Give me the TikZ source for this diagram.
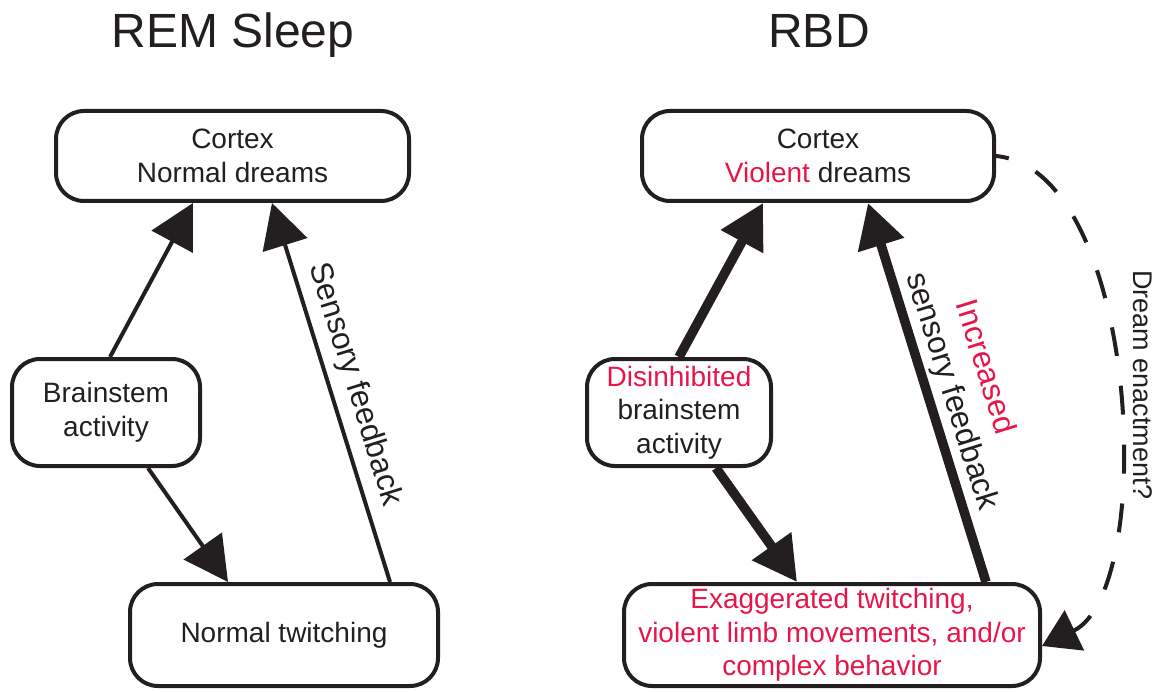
\documentclass[tikz,border=0pt]{standalone}
\usepackage{fontspec}
\setmainfont{Liberation Sans}
\usetikzlibrary{arrows.meta,calc}
\definecolor{rbdred}{RGB}{232,22,72}
\definecolor{ink}{RGB}{35,31,32}
\begin{document}
\begin{tikzpicture}[x=1pt,y=-1pt,
  box/.style={draw=ink, line width=4pt, rounded corners=28pt, align=center, inner sep=0pt, font=\fontsize{28}{33.5}\selectfont, text=ink},
  thinarrow/.style={draw=ink, line width=4pt, -{Triangle[length=44pt,width=46pt]}},
  thickarrow/.style={draw=ink, line width=9.5pt, -{Triangle[length=44pt,width=46pt]}},
  titletext/.style={font=\fontsize{48}{56}\selectfont, text=ink, inner sep=0pt, anchor=base},
  lbl/.style={font=\fontsize{31.5}{36}\selectfont, text=ink, inner sep=0pt, anchor=base}
]
\useasboundingbox (0,0) rectangle (1169,692);
% titles
\node[titletext] (t1) at (233,48) {REM Sleep};
\node[titletext] (t2) at (819,48) {RBD};
% left boxes
\node[box, minimum width=353pt, minimum height=90pt] (ctxL) at (232.5,156) {Cortex\\Normal dreams};
\node[box, minimum width=188pt, minimum height=107pt] (bsL) at (106,412.5) {Brainstem\\activity};
\node[box, minimum width=308pt, minimum height=102pt] (twL) at (284,635) {Normal twitching};
% right boxes
\node[box, minimum width=352pt, minimum height=90pt] (ctxR) at (818,156) {Cortex\\\textcolor{rbdred}{Violent} dreams};
\node[box, minimum width=184pt, minimum height=107pt] (bsR) at (679,412.5) {\textcolor{rbdred}{Disinhibited}\\brainstem\\activity};
\node[box, minimum width=416pt, minimum height=102pt, text=rbdred] (botR) at (832,635) {Exaggerated twitching,\\violent limb movements, and/or\\complex behavior};
% left arrows
\draw[thinarrow] ([xshift=4pt]bsL.north) -- ([xshift=-39.5pt]ctxL.south);
\draw[thinarrow] ([xshift=42pt]bsL.south) -- ([xshift=-56pt]twL.north);
\draw[thinarrow] ([xshift=106pt]twL.north) -- ([xshift=39.5pt]ctxL.south);
\node[lbl, rotate=-72.7] (sfL) at (347,387) {Sensory feedback};
% right arrows
\draw[thickarrow] ([xshift=0pt]bsR.north) -- ([xshift=-55pt]ctxR.south);
\draw[thickarrow] ([xshift=37pt]bsR.south) -- ([xshift=-35pt]botR.north);
\draw[thickarrow] ([xshift=154pt]botR.north) -- ([xshift=50pt]ctxR.south);
\node[lbl, rotate=-72.7] (sfR) at (943,394) {sensory feedback};
\node[lbl, rotate=-72.7, text=rbdred] (incR) at (976,370) {Increased};
% dashed dream enactment
\draw[draw=ink, line width=4pt, dash pattern=on 29pt off 30pt, dash phase=16pt, -{Triangle[length=36pt,width=44pt]}]
  (ctxR.east) .. controls (1140,170) and (1158,590) .. ([yshift=-11pt]botR.east);
\node[font=\fontsize{27}{32}\selectfont, text=ink, rotate=-90, inner sep=0pt] (de) at (1143,385) {Dream enactment?};
\end{tikzpicture}
\end{document}
